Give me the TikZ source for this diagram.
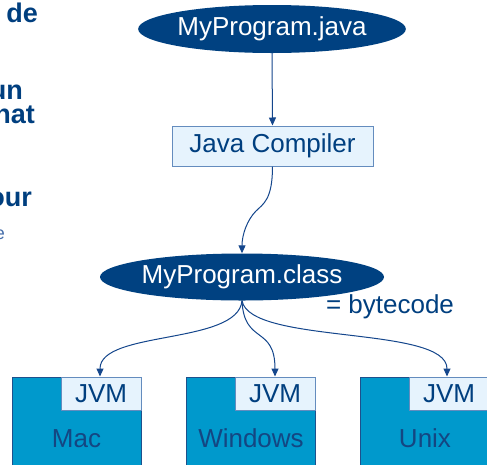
\documentclass[tikz,border=0pt]{standalone}
\usepackage{fontspec}
\setmainfont{Liberation Sans}
\usetikzlibrary{shapes.geometric,arrows.meta}
\definecolor{navy}{RGB}{0,65,129}
\definecolor{txtblue}{RGB}{0,63,127}
\definecolor{lightfill}{RGB}{230,243,253}
\definecolor{lightborder}{RGB}{100,140,190}
\definecolor{platfill}{RGB}{0,153,204}
\definecolor{platborder}{RGB}{30,80,140}
\definecolor{plattext}{RGB}{20,70,130}
\definecolor{arrowcol}{RGB}{20,70,140}
\definecolor{fadetext}{RGB}{70,110,170}
\tikzset{
  oval/.style={ellipse, fill=navy, draw=none, text=white, inner sep=0pt,
    font=\fontsize{26}{30}\selectfont},
  compbox/.style={rectangle, fill=lightfill, draw=lightborder, line width=1pt,
    text=txtblue, inner sep=0pt, font=\fontsize{26}{30}\selectfont},
  platbox/.style={rectangle, fill=platfill, draw=platborder, line width=1pt,
    text=plattext, inner sep=0pt, minimum width=129pt, minimum height=123pt,
    font=\fontsize{26}{30}\selectfont},
  jvmbox/.style={rectangle, fill=lightfill, draw=lightborder, line width=1pt,
    text=txtblue, inner sep=0pt, minimum width=80pt, minimum height=33pt,
    font=\fontsize{26}{30}\selectfont},
  conn/.style={draw=arrowcol, line width=1pt,
    -{Triangle[length=8pt,width=7pt]}},
  sidetext/.style={anchor=base east, inner sep=0pt, text=txtblue,
    font=\fontsize{27}{30}\selectfont\bfseries},
  plain/.style={inner sep=0pt, text=txtblue, font=\fontsize{26}{30}\selectfont}
}
\begin{document}
\begin{tikzpicture}[x=1pt,y=-1pt]
\useasboundingbox (0,0) rectangle (487,464);
\clip (0,0) rectangle (487,464);
\fill[white] (0,0) rectangle (487,464);

% truncated side text
\node[sidetext] (t1) at (38,22) {de};
\node[sidetext] (t2) at (23,99) {un};
\node[sidetext] (t3) at (35,123) {nat};
\node[sidetext] (t4) at (32,206) {our};
\node[anchor=base east, inner sep=0pt, text=fadetext,
  font=\fontsize{18}{20}\selectfont] (t5) at (5,239) {e};

% main nodes
\node[oval, minimum width=249pt, minimum height=48pt] (java) at (272,29) {MyProgram.java};
\node[compbox, minimum width=201pt, minimum height=40pt] (comp) at (272.5,146) {Java Compiler};
\node[oval, minimum width=250pt, minimum height=47pt] (cls) at (242,277) {MyProgram.class};
\node[plain] (bc) at (390,307) {= bytecode};

% platforms
\node[platbox] (mac) at (76.5,438.5) {Mac};
\node[platbox] (win) at (251,438.5) {Windows};
\node[platbox] (unix) at (425,438.5) {Unix};
\node[jvmbox] (jmac) at (101,393.5) {JVM};
\node[jvmbox] (jwin) at (275,393.5) {JVM};
\node[jvmbox] (junix) at (449,393.5) {JVM};

% connectors
\draw[conn] (java.south) -- (comp.north);
\draw[conn] (comp.south) .. controls (272.5,200) and (263,204) .. (256,211)
  .. controls (247,220) and (242,235) .. (cls.north);
\draw[conn] (cls.south) .. controls (238,345) and (100,330) .. (jmac.north -| 100,0);
\draw[conn] (cls.south) .. controls (244,345) and (275,325) .. (jwin.north);
\draw[conn] (cls.south) .. controls (250,345) and (447,325) .. (junix.north -| 447,0);
\end{tikzpicture}
\end{document}
